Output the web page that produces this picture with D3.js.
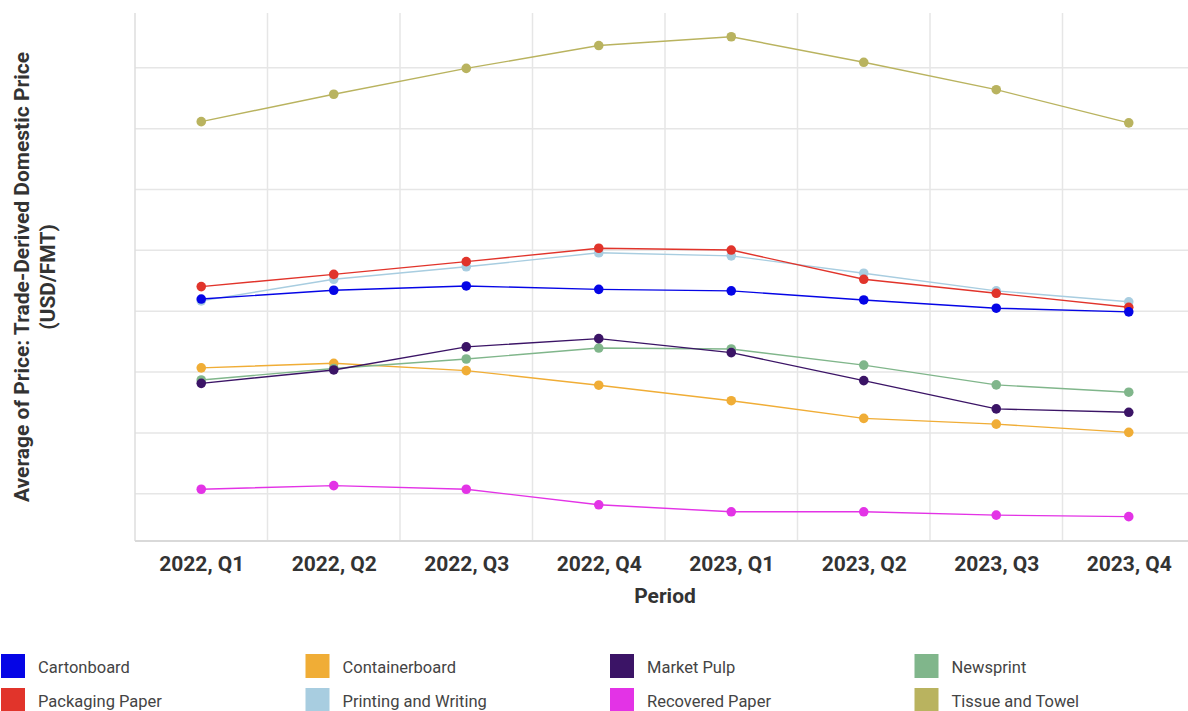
<!DOCTYPE html>
<html>
<head>
<meta charset="utf-8">
<script src="https://cdn.jsdelivr.net/npm/d3@7"></script>
<style>
  body { margin: 0; background: #fff; }
  svg { display: block; font-family: Roboto, "Noto Sans", sans-serif; }
</style>
</head>
<body>
<div id="chart"></div>
<script>
const periods = ["2022, Q1", "2022, Q2", "2022, Q3", "2022, Q4", "2023, Q1", "2023, Q2", "2023, Q3", "2023, Q4"];

// values (no y tick labels in the original)
const cartonboard = [840, 869, 883, 872, 867, 837, 810, 798];
const containerboard = [614, 629, 605, 557, 506, 448, 429, 402];
const marketPulp = [563, 607, 683, 710, 664, 572, 479, 468];
const newsprint = [574, 612, 643, 679, 676, 623, 558, 534];
const packagingPaper = [881, 921, 963, 1007, 1001, 905, 859, 813];
const printingWriting = [834, 905, 946, 992, 982, 925, 867, 831];
const recoveredPaper = [215, 227, 215, 164, 141, 141, 130, 125];
const tissueTowel = [1423, 1513, 1598, 1673, 1702, 1618, 1528, 1419];

const gridValues = [200, 400, 600, 800, 1000, 1200, 1400, 1600];

const series = [
  { name: "Cartonboard", color: "#0505e6", values: cartonboard },
  { name: "Containerboard", color: "#f0ad36", values: containerboard },
  { name: "Market Pulp", color: "#3b1466", values: marketPulp },
  { name: "Newsprint", color: "#80b68b", values: newsprint },
  { name: "Packaging Paper", color: "#e1342b", values: packagingPaper },
  { name: "Printing and Writing", color: "#a8cde0", values: printingWriting },
  { name: "Recovered Paper", color: "#e333e6", values: recoveredPaper },
  { name: "Tissue and Towel", color: "#b9b35f", values: tissueTowel }
];

// draw order: back to front roughly as in the picture
const drawOrder = ["Tissue and Towel", "Recovered Paper", "Containerboard", "Newsprint", "Market Pulp", "Printing and Writing", "Packaging Paper", "Cartonboard"];

const width = 1188, height = 711;
const m = { left: 135, right: 1195, top: 13, bottom: 541 };

const svg = d3.select("#chart").append("svg")
  .attr("width", width)
  .attr("height", height);

const x = d3.scalePoint().domain(periods).range([m.left, m.right]).padding(0.5);
const y = d3.scaleLinear().domain([45, 1780]).range([m.bottom, m.top]);

const step = x.step();

// gridlines
const grid = svg.append("g");
grid.selectAll("line.h")
  .data(gridValues)
  .join("line")
  .attr("class", "h")
  .attr("x1", m.left).attr("x2", m.right)
  .attr("y1", d => y(d)).attr("y2", d => y(d))
  .attr("stroke", "#e6e6e6").attr("stroke-width", 1.5);

grid.selectAll("line.v")
  .data(periods.slice(1))
  .join("line")
  .attr("class", "v")
  .attr("x1", d => x(d) - step / 2).attr("x2", d => x(d) - step / 2)
  .attr("y1", m.top).attr("y2", m.bottom)
  .attr("stroke", "#e6e6e6").attr("stroke-width", 1.5);

// left border + bottom axis line
svg.append("line")
  .attr("x1", m.left).attr("x2", m.left).attr("y1", m.top).attr("y2", m.bottom)
  .attr("stroke", "#dedede").attr("stroke-width", 1.5);

const xAxis = svg.append("g")
  .attr("transform", `translate(0,${m.bottom})`)
  .call(d3.axisBottom(x).tickSize(0).tickPadding(15));
xAxis.select(".domain").attr("stroke", "#d9d9d9").attr("stroke-width", 2)
  .attr("d", `M${m.left},0H${m.right}`);
xAxis.selectAll("text")
  .attr("font-size", 21).attr("font-weight", "bold").attr("fill", "#333")
  .attr("font-family", "Roboto, sans-serif");

// axis titles
svg.append("text")
  .attr("x", x(periods[3]) + step / 2).attr("y", 603)
  .attr("text-anchor", "middle")
  .attr("font-size", 21).attr("font-weight", "bold").attr("fill", "#333")
  .text("Period");

const yTitle = svg.append("text")
  .attr("transform", `translate(29,${(m.top + m.bottom) / 2}) rotate(-90)`)
  .attr("text-anchor", "middle")
  .attr("font-size", 21).attr("font-weight", "bold").attr("fill", "#333");
yTitle.append("tspan").attr("x", 0).attr("dy", 0).text("Average of Price: Trade-Derived Domestic Price");
yTitle.append("tspan").attr("x", 0).attr("dy", 26).text("(USD/FMT)");

// lines and markers
const line = d3.line()
  .x((d, i) => x(periods[i]))
  .y(d => y(d));

const ordered = drawOrder.map(n => series.find(s => s.name === n));

const g = svg.append("g")
  .selectAll("g")
  .data(ordered)
  .join("g");

g.append("path")
  .attr("d", d => line(d.values))
  .attr("fill", "none")
  .attr("stroke", d => d.color)
  .attr("stroke-width", 1.4);

g.selectAll("circle")
  .data(d => d.values.map((v, i) => ({ v, i, color: d.color })))
  .join("circle")
  .attr("cx", d => x(periods[d.i]))
  .attr("cy", d => y(d.v))
  .attr("r", 4.8)
  .attr("fill", d => d.color);

// legend
const legend = svg.append("g")
  .selectAll("g")
  .data(series)
  .join("g")
  .attr("transform", (d, i) => `translate(${1 + (i % 4) * 304.5},${654 + Math.floor(i / 4) * 34})`);

legend.append("rect")
  .attr("width", 24).attr("height", 24)
  .attr("fill", d => d.color);

legend.append("text")
  .attr("x", 37).attr("y", 13).attr("dy", "0.35em")
  .attr("font-size", 16.5).attr("fill", "#444")
  .text(d => d.name);
</script>
</body>
</html>
